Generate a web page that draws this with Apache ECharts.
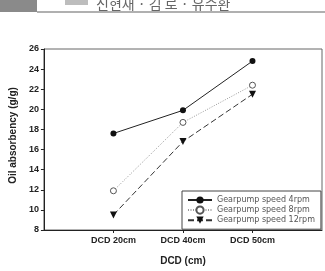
<!DOCTYPE html>
<html>
<head>
<meta charset="utf-8">
<script src="https://cdn.jsdelivr.net/npm/echarts@6/dist/echarts.min.js"></script>
<style>
  html, body { margin: 0; padding: 0; background: #fff; }
  #chart { width: 325px; height: 271px; }
</style>
</head>
<body>
<div id="chart"></div>
<script>
  // DCD positions and measured oil absorbency (g/g)
  var categories = ['DCD 20cm', 'DCD 40cm', 'DCD 50cm']
  var xPos = [1, 2, 3]
  var rpm4 = [17.6, 19.9, 24.8]
  var rpm8 = [11.9, 18.7, 22.4]
  var rpm12 = [9.5, 16.8, 21.5]
  var seriesNames = ['Gearpump speed 4rpm', 'Gearpump speed 8rpm', 'Gearpump speed 12rpm']
  var yTicks = [8, 10, 12, 14, 16, 18, 20, 22, 24, 26]

  function pairs(vals) {
    return vals.map(function (v, i) { return [xPos[i], v] })
  }

  var chart = echarts.init(document.getElementById('chart'), null, { renderer: 'canvas' })
  var labelFont = 'Liberation Sans, Arial, sans-serif'

  chart.setOption({
    animation: false,
    graphic: [
      { type: 'rect', shape: { x: 0, y: 0, width: 37, height: 12 }, style: { fill: '#8a8a8a' } },
      { type: 'rect', shape: { x: 65, y: 0, width: 23, height: 5 }, style: { fill: '#bdbdbd' } },
      { type: 'rect', shape: { x: 37, y: 11, width: 288, height: 2 }, style: { fill: '#b0b0b0' } },
      {
        type: 'text', left: 96, top: -3,
        style: { text: '신현재 · 김 로 · 유수환', font: '14px "Noto Sans CJK KR"', fill: '#666' }
      }
    ],
    grid: {
      left: 32, right: 3, top: 49, bottom: 30,
      show: true, borderColor: '#666', borderWidth: 1
    },
    legend: {
      orient: 'vertical',
      left: 182, top: 191,
      data: seriesNames,
      backgroundColor: '#fff',
      borderColor: '#444', borderWidth: 1, borderRadius: 0,
      padding: [5, 6, 5, 5],
      itemWidth: 24, itemHeight: 9, itemGap: 1.5, itemTextGap: 6,
      textStyle: { fontFamily: 'DejaVu Sans', fontSize: 8, color: '#555' }
    },
    xAxis: {
      type: 'value', min: 0, max: 4, interval: 1,
      name: 'DCD (cm)', nameLocation: 'middle', nameGap: 26,
      nameTextStyle: { fontFamily: labelFont, fontWeight: 'bold', fontSize: 10, color: '#222' },
      axisLine: { show: true, lineStyle: { color: '#222', width: 1 } },
      axisTick: { show: true, length: 3, customValues: xPos, lineStyle: { color: '#222' } },
      axisLabel: {
        customValues: xPos, margin: 6,
        fontFamily: labelFont, fontWeight: 'bold', fontSize: 9, color: '#222',
        formatter: function (v) { return categories[xPos.indexOf(v)] || '' }
      },
      splitLine: { show: false }
    },
    yAxis: {
      type: 'value', min: yTicks[0], max: yTicks[yTicks.length - 1], interval: 2,
      name: 'Oil absorbency (g/g)', nameLocation: 'middle', nameGap: 20,
      nameTextStyle: { fontFamily: labelFont, fontWeight: 'bold', fontSize: 10, color: '#222', padding: [0, 0, 0, 8] },
      axisLine: { show: true, lineStyle: { color: '#222', width: 1 } },
      axisTick: { show: true, length: 3, lineStyle: { color: '#222' } },
      axisLabel: { margin: 5, fontFamily: labelFont, fontWeight: 'bold', fontSize: 9, color: '#222' },
      splitLine: { show: false }
    },
    series: [
      {
        name: seriesNames[0], type: 'line', data: pairs(rpm4),
        symbol: 'circle', symbolSize: 6,
        itemStyle: { color: '#111' },
        lineStyle: { color: '#222', width: 1 }
      },
      {
        name: seriesNames[1], type: 'line', data: pairs(rpm8),
        symbol: 'circle', symbolSize: 6,
        itemStyle: { color: '#fff', borderColor: '#555', borderWidth: 1 },
        lineStyle: { color: '#999', width: 1, type: [1, 1.5] }
      },
      {
        name: seriesNames[2], type: 'line', data: pairs(rpm12),
        symbol: 'triangle', symbolSize: 7, symbolRotate: 180,
        itemStyle: { color: '#111' },
        lineStyle: { color: '#333', width: 1, type: [6, 3] }
      }
    ]
  })
</script>
</body>
</html>
